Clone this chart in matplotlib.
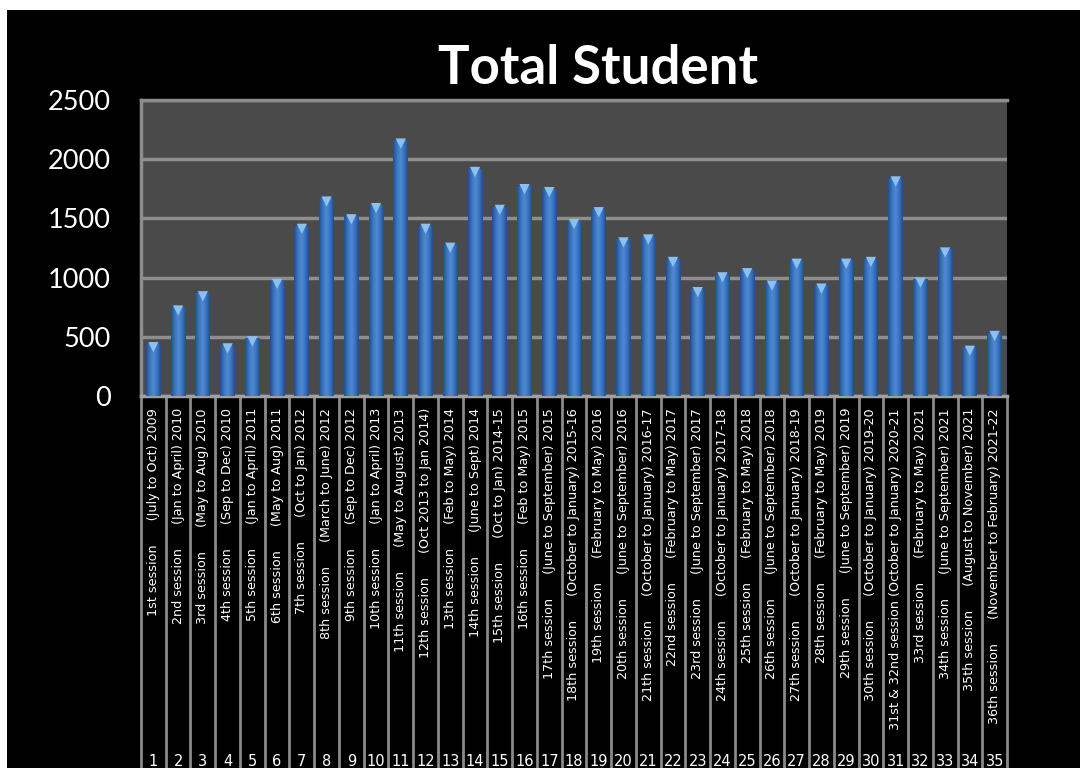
import matplotlib
matplotlib.use("Agg")
import matplotlib.pyplot as plt
import numpy as np
from matplotlib.patches import Rectangle
from matplotlib.colors import LinearSegmentedColormap
import matplotlib.transforms as mtransforms

# ---------------- data ----------------
session_names = [
    "1st session", "2nd session", "3rd session", "4th session", "5th session",
    "6th session", "7th session", "8th session", "9th session", "10th session",
    "11th session", "12th session", "13th session", "14th session", "15th session",
    "16th session", "17th session", "18th session", "19th session", "20th session",
    "21th session", "22nd session", "23rd session", "24th session", "25th session",
    "26th session", "27th session", "28th session", "29th session", "30th session",
    "31st & 32nd session", "33rd session", "34th session", "35th session", "36th session",
]
session_periods = [
    "(July to Oct) 2009", "(Jan to April) 2010", "(May to Aug) 2010", "(Sep to Dec) 2010",
    "(Jan to April) 2011", "(May to Aug) 2011", "(Oct to Jan) 2012", "(March to June) 2012",
    "(Sep to Dec) 2012", "(Jan to April) 2013", "(May to August) 2013", "(Oct 2013 to Jan 2014)",
    "(Feb to May) 2014", "(June to Sept) 2014", "(Oct to Jan) 2014-15", "(Feb to May) 2015",
    "(June to September) 2015", "(October to January) 2015-16", "(February to May) 2016",
    "(June to September) 2016", "(October to January) 2016-17", "(February to May) 2017",
    "(June to September) 2017", "(October to January) 2017-18", "(February to May) 2018",
    "(June to September) 2018", "(October to January) 2018-19", "(February to May) 2019",
    "(June to September) 2019", "(October to January) 2019-20", "(October to January) 2020-21",
    "(February to May) 2021", "(June to September) 2021", "(August to November) 2021",
    "(November to February) 2021-22",
]
session_numbers = list(range(1, 36))
total_students = [
    440, 750, 870, 430, 490, 975, 1440, 1670, 1520, 1615,
    2160, 1440, 1280, 1920, 1600, 1775, 1750, 1480, 1580, 1325,
    1350, 1160, 905, 1030, 1065, 960, 1145, 935, 1145, 1160,
    1840, 985, 1240, 410, 535,
]
y_ticks = [0, 500, 1000, 1500, 2000, 2500]
title = "Total Student"

# ---------------- figure ----------------
W, H = 1080, 768
fig = plt.figure(figsize=(W / 100, H / 100), dpi=100)
fig.patch.set_facecolor("white")
fig.patches.append(Rectangle((7 / W, 0), 1, (H - 10) / H, transform=fig.transFigure,
                             facecolor="black", edgecolor="none", zorder=-10))

left, right, top, bottom = 141, 1007, 100, 396
ax = fig.add_axes([left / W, 1 - bottom / H, (right - left) / W, (bottom - top) / H])
ax.set_facecolor("#4a4a4a")

n = len(total_students)
x = np.arange(n)

grid_col = "#8e8e8e"
ax.set_yticks(y_ticks)
ax.yaxis.grid(True, color=grid_col, linewidth=2.5, zorder=0)
ax.set_axisbelow(True)
for s in ["left", "top"]:
    ax.spines[s].set_color(grid_col)
    ax.spines[s].set_linewidth(2.5)
ax.spines["bottom"].set_color("#a0a0a0")
ax.spines["bottom"].set_linewidth(2.5)
ax.spines["right"].set_visible(False)
ax.tick_params(axis="y", length=0, pad=22, labelsize=19.5, labelcolor="white")
for lab in ax.get_yticklabels():
    lab.set_fontfamily("Lato")
ax.set_xticks([])

# bars with horizontal gradient
bars = ax.bar(x, total_students, width=0.6, color="#3b75c0", edgecolor="none", zorder=2)
cmap = LinearSegmentedColormap.from_list(
    "cyl", ["#1f4f8f", "#3a74bd", "#4f8ad6", "#3a74bd", "#1f4f8f"])
grad = np.linspace(0, 1, 64).reshape(1, -1)
for b in bars:
    x0, y0 = b.get_x(), b.get_y()
    w, h = b.get_width(), b.get_height()
    im = ax.imshow(grad, cmap=cmap, aspect="auto", extent=[x0, x0 + w, y0, y0 + h],
                   zorder=3, interpolation="bicubic")
    im.set_clip_path(b)
ax.set_xlim(-0.5, n - 0.5)
ax.set_ylim(0, 2500)
# light caps on top of bars
ax.scatter(x, np.array(total_students) - 28, marker="v", s=55, color="#8cc0f2",
           edgecolors="none", zorder=4)

# ---------------- category table ----------------
trans = mtransforms.blended_transform_factory(ax.transData, ax.transAxes)
table_bottom = -(H - bottom) / (bottom - top)
for i in range(n + 1):
    ax.plot([i - 0.5, i - 0.5], [0, table_bottom], transform=trans, color="#8a8a8a",
            linewidth=2, clip_on=False, zorder=1)

label_top = -(408 - bottom) / (bottom - top)
num_y = -(762 - bottom) / (bottom - top)
for i in range(n):
    gap = " " if len(session_names[i]) > 14 else "      "
    txt = f"{session_names[i]}{gap}{session_periods[i]}"
    ax.text(x[i], label_top, txt, transform=trans, rotation=90, ha="center", va="top",
            color="white", fontsize=9.2, fontfamily="DejaVu Sans", clip_on=False)
    ax.text(x[i], num_y, str(session_numbers[i]), transform=trans, ha="center", va="center",
            color="white", fontsize=10.5, fontfamily="DejaVu Sans", clip_on=False)

fig.text(598 / W, 1 - 69 / H, title, ha="center", va="center", color="white",
         fontsize=38, fontweight="bold", fontfamily="Lato")

fig.savefig("out.png", dpi=100, facecolor=fig.get_facecolor())
